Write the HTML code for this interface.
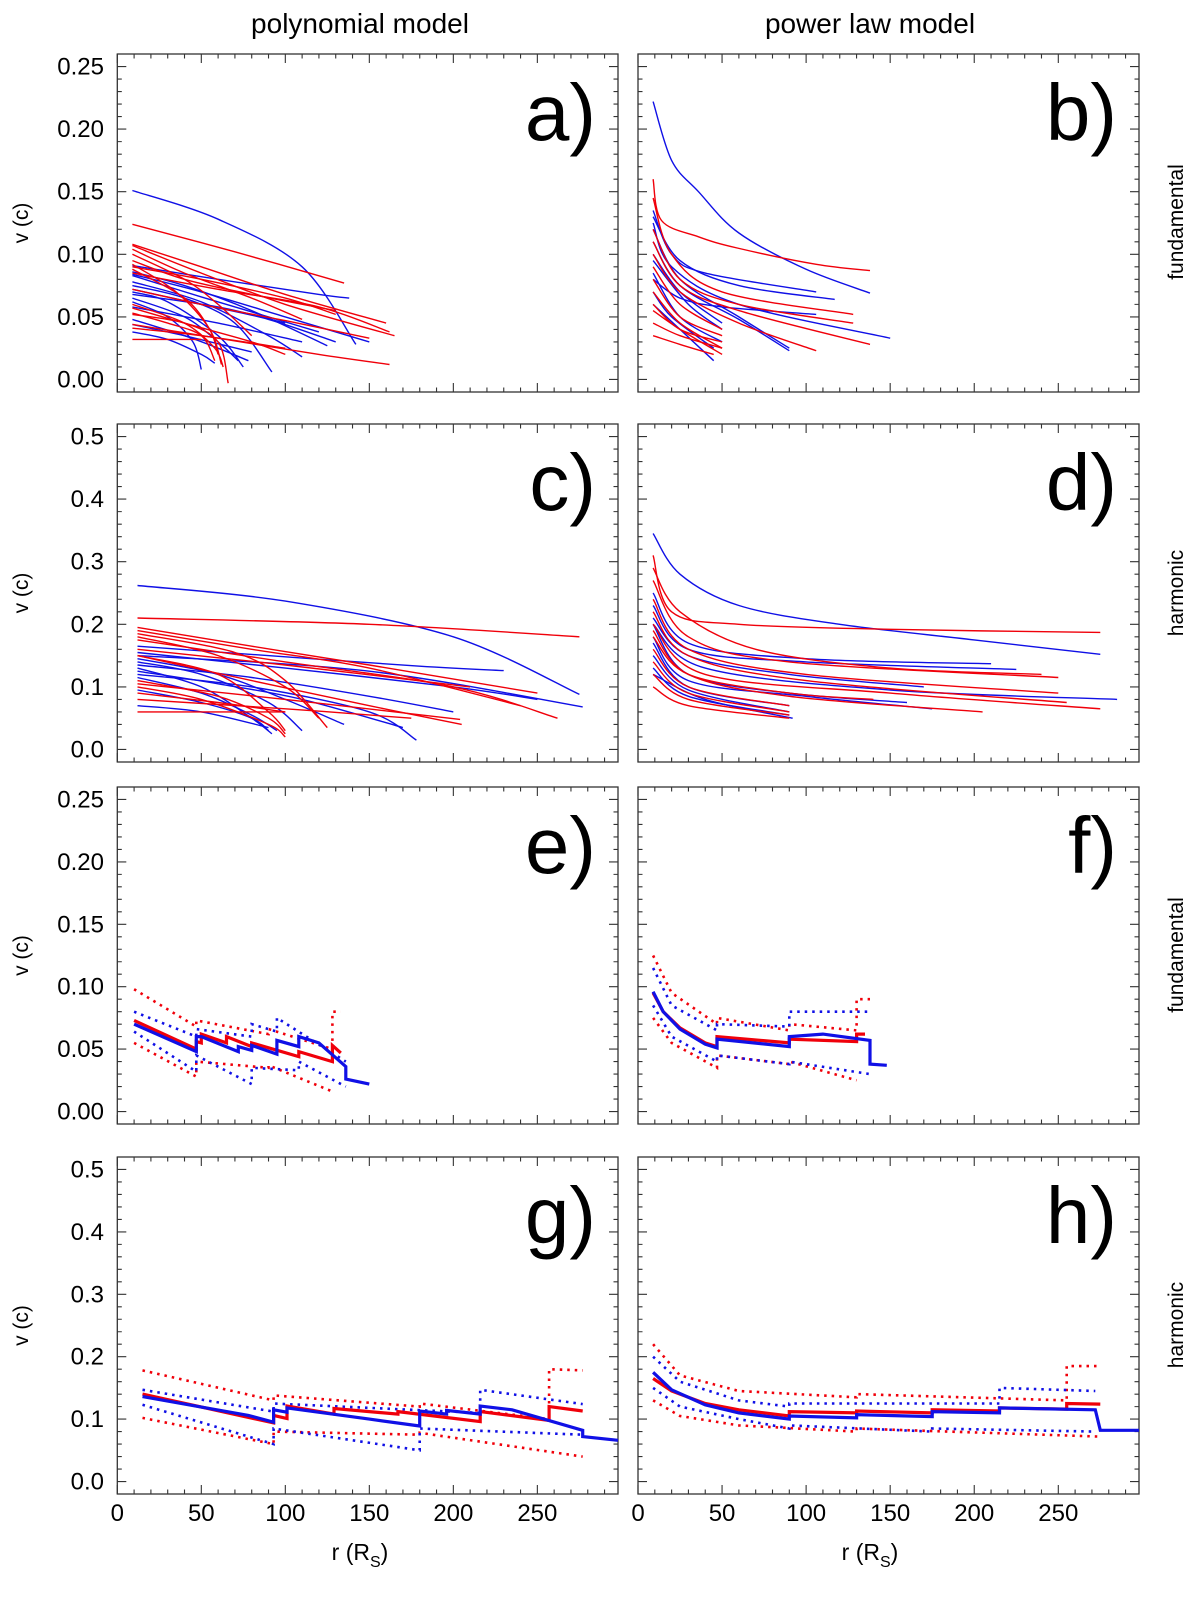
<!DOCTYPE html>
<html><head><meta charset="utf-8"><style>
html,body{margin:0;padding:0;background:#fff;}
svg{display:block;font-family:"Liberation Sans",sans-serif;}
</style></head><body>
<svg id="fig" width="1200" height="1602" viewBox="0 0 1200 1602" xmlns="http://www.w3.org/2000/svg">
<text x="360" y="33" font-size="28" text-anchor="middle">polynomial model</text>
<text x="870" y="33" font-size="28" text-anchor="middle">power law model</text>
<text transform="translate(1183,222) rotate(-90)" font-size="21" text-anchor="middle">fundamental</text>
<text transform="translate(1183,593) rotate(-90)" font-size="21" text-anchor="middle">harmonic</text>
<text transform="translate(1183,955) rotate(-90)" font-size="21" text-anchor="middle">fundamental</text>
<text transform="translate(1183,1325) rotate(-90)" font-size="21" text-anchor="middle">harmonic</text>
<text x="360" y="1560" font-size="23" text-anchor="middle">r (R<tspan font-size="16" dy="7">S</tspan><tspan dy="-7">)</tspan></text>
<text x="870" y="1560" font-size="23" text-anchor="middle">r (R<tspan font-size="16" dy="7">S</tspan><tspan dy="-7">)</tspan></text>
</svg>
<script>
// ---------- data ----------
const xTicks = [0,50,100,150,200,250];
const fundTicks = ["0.00","0.05","0.10","0.15","0.20","0.25"];
const harmTicks = ["0.0","0.1","0.2","0.3","0.4","0.5"];
const panelLetters = ["a)","b)","c)","d)","e)","f)","g)","h)"];

const aBlue = [
 [[9,.151],[60,.128],[110,.09],[142,.028]],
 [[9,.091],[60,.080],[120,.068],[138,.065]],
 [[9,.084],[50,.070],[100,.050],[150,.030]],
 [[9,.078],[50,.062],[90,.035],[110,.018]],
 [[9,.075],[40,.065],[70,.045],[92,.006]],
 [[9,.072],[50,.060],[90,.048],[130,.030]],
 [[9,.070],[30,.062],[60,.035],[75,.010]],
 [[9,.068],[60,.058],[100,.045]],
 [[9,.065],[40,.050],[60,.030],[72,.015]],
 [[9,.062],[30,.050],[45,.030],[50,.008]],
 [[9,.058],[60,.045],[110,.030]],
 [[9,.048],[40,.035],[60,.025],[78,.015]],
 [[9,.044],[40,.035],[80,.022]],
 [[9,.038],[30,.032],[50,.020],[58,.013]],
 [[9,.083],[50,.066],[90,.050],[120,.038]],
 [[9,.086],[40,.075],[80,.055],[125,.027]]
];
const aRed = [
 [[9,.124],[70,.102],[135,.077]],
 [[9,.108],[50,.090],[100,.068],[160,.045]],
 [[9,.107],[50,.085],[100,.060],[165,.035]],
 [[9,.104],[40,.085],[80,.065],[110,.048]],
 [[9,.100],[40,.080],[60,.060],[80,.035]],
 [[9,.095],[40,.080],[80,.068],[130,.055]],
 [[9,.092],[35,.070],[55,.040],[62,.012]],
 [[9,.090],[50,.080],[100,.065],[130,.052]],
 [[9,.088],[40,.065],[55,.040],[60,.020]],
 [[9,.085],[60,.072],[120,.058],[162,.038]],
 [[9,.060],[40,.045],[58,.025],[63,.010]],
 [[9,.057],[40,.045],[80,.030],[100,.020]],
 [[9,.053],[30,.045],[50,.035],[58,.015]],
 [[9,.052],[40,.045],[60,.030],[66,-.003]],
 [[9,.041],[50,.035],[100,.025]],
 [[9,.032],[30,.032],[50,.032]],
 [[9,.044],[60,.033],[120,.020],[162,.012]],
 [[9,.072],[50,.060],[100,.047],[150,.033]]
];
const bBlue = [
 [[9,.222],[20,.175],[36,.150],[60,.117],[100,.088],[138,.069]],
 [[9,.135],[20,.100],[40,.085],[106,.070]],
 [[9,.130],[25,.095],[60,.075],[117,.064]],
 [[9,.125],[20,.090],[60,.060],[150,.033]],
 [[9,.120],[25,.080],[60,.050],[90,.025]],
 [[9,.110],[25,.075],[60,.048],[90,.023]],
 [[9,.100],[25,.070],[50,.045]],
 [[9,.095],[30,.060],[50,.040]],
 [[9,.085],[25,.050],[50,.030]],
 [[9,.080],[25,.065],[50,.058],[106,.052]],
 [[9,.060],[25,.040],[45,.015]],
 [[9,.070],[20,.050],[45,.025]]
];
const bRed = [
 [[9,.160],[14,.127],[36,.114],[59,.105],[106,.092],[138,.087]],
 [[9,.145],[20,.100],[50,.070],[128,.052]],
 [[9,.120],[25,.080],[60,.060],[128,.045]],
 [[9,.110],[25,.075],[60,.055],[138,.028]],
 [[9,.100],[25,.070],[60,.045],[106,.023]],
 [[9,.090],[25,.060],[50,.040]],
 [[9,.080],[25,.050],[50,.035]],
 [[9,.070],[25,.045],[50,.025]],
 [[9,.060],[25,.040],[50,.030]],
 [[9,.045],[25,.035],[50,.025]],
 [[9,.035],[25,.028],[45,.020]],
 [[9,.055],[25,.040],[50,.020]]
];
const cBlue = [
 [[12,.262],[100,.237],[200,.180],[275,.088]],
 [[12,.165],[100,.148],[180,.133],[230,.126]],
 [[12,.150],[150,.125],[277,.068]],
 [[12,.145],[60,.120],[100,.080],[135,.040]],
 [[12,.140],[50,.120],[90,.075],[110,.030]],
 [[12,.130],[50,.100],[80,.050],[92,.025]],
 [[12,.120],[80,.100],[150,.060],[178,.015]],
 [[12,.135],[80,.115],[150,.085],[200,.060]],
 [[12,.125],[60,.105],[110,.080],[170,.035]],
 [[12,.115],[50,.090],[80,.055],[95,.030]],
 [[12,.095],[50,.075],[80,.050],[90,.030]],
 [[12,.070],[50,.060],[90,.035]],
 [[12,.155],[100,.130],[200,.100],[250,.080]]
];
const cRed = [
 [[12,.210],[150,.200],[275,.180]],
 [[12,.195],[80,.165],[150,.135],[250,.090]],
 [[12,.190],[80,.160],[150,.130],[240,.070]],
 [[12,.185],[70,.155],[100,.110],[125,.035]],
 [[12,.180],[60,.150],[100,.100],[120,.050]],
 [[12,.175],[100,.140],[200,.100],[262,.050]],
 [[12,.160],[100,.135],[210,.100]],
 [[12,.150],[60,.120],[90,.060],[100,.030]],
 [[12,.110],[60,.085],[90,.050],[100,.025]],
 [[12,.100],[50,.080],[90,.040],[100,.020]],
 [[12,.090],[60,.075],[100,.060]],
 [[12,.080],[100,.065],[175,.050]],
 [[12,.060],[50,.060],[100,.060]],
 [[12,.105],[100,.080],[204,.048]],
 [[12,.150],[80,.110],[150,.070],[205,.040]]
];
const dBlue = [
 [[9,.345],[25,.280],[60,.230],[120,.200],[200,.175],[275,.152]],
 [[9,.250],[30,.170],[100,.145],[210,.137]],
 [[9,.230],[30,.160],[100,.140],[225,.128]],
 [[9,.200],[40,.130],[150,.095],[285,.080]],
 [[9,.200],[30,.120],[90,.090],[160,.075]],
 [[9,.180],[30,.110],[100,.085],[175,.065]],
 [[9,.170],[30,.100],[90,.070]],
 [[9,.150],[30,.095],[90,.060]],
 [[9,.130],[30,.085],[90,.055]],
 [[9,.120],[40,.080],[92,.050]],
 [[9,.210],[30,.150],[90,.120],[170,.100]]
];
const dRed = [
 [[9,.310],[20,.220],[60,.200],[150,.192],[275,.187]],
 [[9,.290],[25,.220],[70,.160],[150,.130],[240,.120]],
 [[9,.270],[30,.180],[90,.140],[250,.115]],
 [[9,.240],[30,.160],[100,.120],[250,.090]],
 [[9,.220],[30,.150],[100,.110],[255,.075]],
 [[9,.200],[40,.120],[150,.090],[275,.065]],
 [[9,.180],[30,.120],[90,.090],[140,.080]],
 [[9,.160],[30,.100],[90,.070]],
 [[9,.140],[30,.090],[90,.060]],
 [[9,.120],[30,.080],[90,.055]],
 [[9,.100],[30,.070],[90,.050]],
 [[9,.190],[30,.120],[90,.085],[205,.060]]
];
const eRed = [[[10,.073],[47,.050]],[[47,.056],[50,.055]],[[50,.062],[65,.055]],[[65,.060],[80,.052]],[[80,.055],[108,.044]],[[108,.048],[128,.040]],[[128,.053],[133,.047]]];
const eBlue = [[[10,.070],[47,.048]],[[47,.060],[50,.060],[72,.048]],[[72,.052],[80,.049]],[[80,.053],[95,.046]],[[95,.057],[108,.052]],[[108,.060],[120,.055],[136,.036]],[[136,.026],[150,.022]]];
const eRedUp = [[[10,.098],[47,.068]],[[47,.073],[90,.062]],[[90,.066],[128,.050]],[[128,.080],[133,.080]]];
const eRedLo = [[[10,.055],[47,.028]],[[47,.040],[90,.035]],[[90,.037],[128,.016]]];
const eBlueUp = [[[10,.080],[47,.060]],[[47,.066],[80,.060]],[[80,.070],[95,.064]],[[95,.075],[136,.040]]];
const eBlueLo = [[[10,.064],[47,.032]],[[47,.045],[80,.022]],[[80,.035],[108,.033]],[[108,.040],[136,.020]]];
const fRed = [[[9,.095],[15,.080],[25,.067],[40,.055],[47,.052]],[[47,.060],[90,.055]],[[90,.058],[130,.056]],[[130,.062],[135,.062]]];
const fBlue = [[[9,.096],[15,.080],[25,.066],[40,.054],[47,.051]],[[47,.058],[90,.052]],[[90,.060],[110,.062],[138,.057]],[[138,.038],[148,.037]]];
const fRedUp = [[[9,.125],[20,.095],[47,.070]],[[47,.075],[90,.065]],[[90,.070],[130,.065]],[[130,.090],[138,.090]]];
const fRedLo = [[[9,.075],[20,.055],[47,.035]],[[47,.045],[90,.038]],[[90,.040],[130,.025]]];
const fBlueUp = [[[9,.115],[20,.085],[47,.065]],[[47,.070],[90,.068]],[[90,.080],[138,.080]]];
const fBlueLo = [[[9,.085],[20,.060],[47,.040]],[[47,.045],[90,.038]],[[90,.040],[138,.030]]];
const gRed = [[[15,.140],[93,.094]],[[93,.106],[101,.101]],[[101,.121],[129,.108]],[[129,.117],[167,.108]],[[167,.112],[216,.096]],[[216,.112],[257,.098]],[[257,.120],[277,.113]]];
const gBlue = [[[15,.136],[78,.106],[93,.095]],[[93,.115],[101,.111]],[[101,.118],[150,.100],[180,.089]],[[180,.113],[196,.108]],[[196,.114],[216,.108]],[[216,.121],[235,.115],[277,.082]],[[277,.072],[298,.066]]];
const gRedUp = [[[15,.178],[93,.130]],[[93,.138],[180,.120]],[[180,.125],[257,.100]],[[257,.180],[277,.178]]];
const gRedLo = [[[15,.102],[93,.060]],[[93,.080],[180,.075]],[[180,.078],[277,.040]]];
const gBlueUp = [[[15,.147],[93,.112]],[[93,.125],[216,.110]],[[216,.147],[277,.124]]];
const gBlueLo = [[[15,.123],[93,.060]],[[93,.085],[180,.050]],[[180,.085],[277,.075]]];
const hRed = [[[9,.165],[20,.145],[40,.125],[60,.115],[90,.105]],[[90,.112],[130,.110]],[[130,.113],[175,.110]],[[175,.115],[215,.113]],[[215,.118],[255,.116]],[[255,.125],[275,.124]]];
const hBlue = [[[9,.175],[20,.147],[40,.123],[60,.110],[90,.100]],[[90,.105],[130,.102]],[[130,.107],[175,.104]],[[175,.112],[215,.110]],[[215,.118],[272,.115]],[[275,.082],[298,.082]]];
const hRedUp = [[[9,.220],[25,.170],[60,.145],[130,.135]],[[130,.140],[255,.130]],[[255,.185],[275,.185]]];
const hRedLo = [[[9,.130],[25,.105],[60,.090],[130,.080]],[[130,.085],[275,.072]]];
const hBlueUp = [[[9,.200],[25,.160],[60,.130],[90,.120]],[[90,.125],[215,.125]],[[215,.150],[272,.145]]];
const hBlueLo = [[[9,.150],[25,.120],[60,.100],[90,.085]],[[90,.090],[175,.080]],[[175,.085],[272,.080]]];

// ---------- layout ----------
const NS = "http://www.w3.org/2000/svg";
const svg = document.getElementById('fig');
const cols = [{x0:117.3,w:500.7},{x0:638,w:501}];
const rows = [{y0:54,y1:392,lo:-0.01,hi:0.26,type:'f'},{y0:424,y1:762,lo:-0.02,hi:0.52,type:'h'},
              {y0:787,y1:1124,lo:-0.01,hi:0.26,type:'f'},{y0:1157,y1:1494,lo:-0.02,hi:0.52,type:'h'}];
const RMAX = 298;
const RED = "#f0000a", BLUE = "#1010e6";

function mk(tag, attrs, parent){ const e=document.createElementNS(NS,tag); for(const k in attrs) e.setAttribute(k,attrs[k]); (parent||svg).appendChild(e); return e; }
function xs(c){ return r => cols[c].x0 + r/RMAX*cols[c].w; }
function ys(rw){ const R=rows[rw]; return v => R.y1 - (v-R.lo)/(R.hi-R.lo)*(R.y1-R.y0); }
function crPath(pts){
  if(pts.length<3){ return "M"+pts.map(p=>p[0].toFixed(1)+","+p[1].toFixed(1)).join("L"); }
  let d="M"+pts[0][0].toFixed(1)+","+pts[0][1].toFixed(1);
  for(let i=0;i<pts.length-1;i++){
    const p0=pts[Math.max(0,i-1)],p1=pts[i],p2=pts[i+1],p3=pts[Math.min(pts.length-1,i+2)];
    const c1=[p1[0]+(p2[0]-p0[0])/6,p1[1]+(p2[1]-p0[1])/6], c2=[p2[0]-(p3[0]-p1[0])/6,p2[1]-(p3[1]-p1[1])/6];
    d+="C"+c1.map(n=>n.toFixed(1)).join(",")+" "+c2.map(n=>n.toFixed(1)).join(",")+" "+p2[0].toFixed(1)+","+p2[1].toFixed(1);
  }
  return d;
}

function drawAxes(c, rw, idx){
  const R=rows[rw], C=cols[c], X=xs(c), Y=ys(rw);
  const g=mk('g',{});
  
  
  const frame=mk('rect',{x:C.x0,y:R.y0,width:C.w,height:R.y1-R.y0,fill:'none',stroke:'#333','stroke-width':1.3},g);
  
  
  let d="";
  for(let r=0;r<=RMAX;r+=10){ const L=(r%50===0)?9:4.5; const x=X(r);
    d+=`M${x},${R.y1}v${-L}M${x},${R.y0}v${L}`; }
  const major = R.type==='f'?0.05:0.1, minor = R.type==='f'?0.01:0.02;
  for(let k=Math.ceil(R.lo/minor);k*minor<=R.hi+1e-9;k++){ const v=k*minor; const isM=Math.abs(v/major-Math.round(v/major))<1e-6; const L=isM?9:4.5; const y=Y(v);
    d+=`M${C.x0},${y}h${L}M${C.x0+C.w},${y}h${-L}`; }
  const ticks=mk('path',{d:d,stroke:'#333','stroke-width':1.1,fill:'none'},g);
  
  
  if(c===0){
    const labs = R.type==='f'?fundTicks:harmTicks;
    labs.forEach(s=>{ const t=mk('text',{x:104,y:Y(parseFloat(s))+8,'font-size':24,'text-anchor':'end'},g); t.textContent=s;
      
       });
    const yt=mk('text',{transform:`translate(28,${(R.y0+R.y1)/2}) rotate(-90)`,'font-size':21,'text-anchor':'middle'},g);
    yt.textContent='v (c)';
    
    
  }
  if(rw===3){
    xTicks.forEach(r=>{ const t=mk('text',{x:X(r),y:1521,'font-size':24,'text-anchor':'middle'},g); t.textContent=String(r);
      
       });
  }
  const lt=mk('text',{x:C.x0+C.w-22,y:R.y0+86,'font-size':80,'text-anchor':'end'},g);
  lt.textContent=panelLetters[idx];
  
  
  return g;
}

function drawCurves(c,rw,curves,color,name){
  const X=xs(c),Y=ys(rw);
  curves.forEach(cv=>{
    const p=mk('path',{d:crPath(cv.map(q=>[X(q[0]),Y(q[1])])),fill:'none',stroke:color,'stroke-width':1.4});
    
    
  });
}
function drawSteps(c,rw,segs,color,dotted,name){
  const X=xs(c),Y=ys(rw);
  const pts=[]; segs.forEach(s=>s.forEach(q=>pts.push(q)));
  const d="M"+pts.map(q=>X(q[0]).toFixed(1)+","+Y(q[1]).toFixed(1)).join("L");
  const attrs={d:d,fill:'none',stroke:color,'stroke-width':dotted?2.6:3.2,'stroke-linejoin':'miter'};
  if(dotted){ attrs['stroke-dasharray']='2.5,5'; }
  const p=mk('path',attrs);
  
  
}

drawAxes(0,0,0); drawAxes(1,0,1); drawAxes(0,1,2); drawAxes(1,1,3);
drawAxes(0,2,4); drawAxes(1,2,5); drawAxes(0,3,6); drawAxes(1,3,7);

drawCurves(0,0,aBlue,BLUE,'event-curve-blue'); drawCurves(0,0,aRed,RED,'event-curve-red');
drawCurves(1,0,bBlue,BLUE,'event-curve-blue'); drawCurves(1,0,bRed,RED,'event-curve-red');
drawCurves(0,1,cBlue,BLUE,'event-curve-blue'); drawCurves(0,1,cRed,RED,'event-curve-red');
drawCurves(1,1,dBlue,BLUE,'event-curve-blue'); drawCurves(1,1,dRed,RED,'event-curve-red');

drawSteps(0,2,eRedUp,RED,true,'red-upper-bound'); drawSteps(0,2,eRedLo,RED,true,'red-lower-bound');
drawSteps(0,2,eBlueUp,BLUE,true,'blue-upper-bound'); drawSteps(0,2,eBlueLo,BLUE,true,'blue-lower-bound');
drawSteps(0,2,eRed,RED,false,'red-mean-line'); drawSteps(0,2,eBlue,BLUE,false,'blue-mean-line');
drawSteps(1,2,fRedUp,RED,true,'red-upper-bound'); drawSteps(1,2,fRedLo,RED,true,'red-lower-bound');
drawSteps(1,2,fBlueUp,BLUE,true,'blue-upper-bound'); drawSteps(1,2,fBlueLo,BLUE,true,'blue-lower-bound');
drawSteps(1,2,fRed,RED,false,'red-mean-line'); drawSteps(1,2,fBlue,BLUE,false,'blue-mean-line');
drawSteps(0,3,gRedUp,RED,true,'red-upper-bound'); drawSteps(0,3,gRedLo,RED,true,'red-lower-bound');
drawSteps(0,3,gBlueUp,BLUE,true,'blue-upper-bound'); drawSteps(0,3,gBlueLo,BLUE,true,'blue-lower-bound');
drawSteps(0,3,gRed,RED,false,'red-mean-line'); drawSteps(0,3,gBlue,BLUE,false,'blue-mean-line');
drawSteps(1,3,hRedUp,RED,true,'red-upper-bound'); drawSteps(1,3,hRedLo,RED,true,'red-lower-bound');
drawSteps(1,3,hBlueUp,BLUE,true,'blue-upper-bound'); drawSteps(1,3,hBlueLo,BLUE,true,'blue-lower-bound');
drawSteps(1,3,hRed,RED,false,'red-mean-line'); drawSteps(1,3,hBlue,BLUE,false,'blue-mean-line');
</script>
</body></html>
